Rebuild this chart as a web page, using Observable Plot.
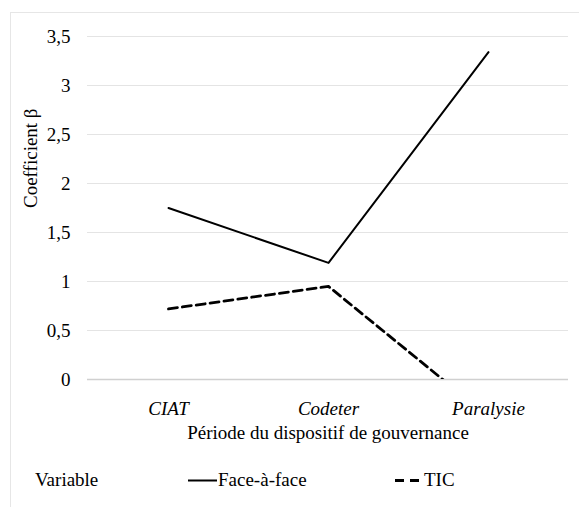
<!DOCTYPE html>
<html><head><meta charset="utf-8">
<script src="https://cdn.jsdelivr.net/npm/d3@7"></script>
<script src="https://cdn.jsdelivr.net/npm/@observablehq/plot@0.6"></script>
<style>
body{margin:0;background:#fff}
#wrap{position:relative;width:579px;height:507px;overflow:hidden;background:#fff}
#frame{position:absolute;left:10px;top:12px;width:600px;height:520px;border-top:1px solid #e6e6e6;border-left:1px solid #e6e6e6;box-sizing:border-box}
#chart{position:absolute;left:0;top:0}
.lg{position:absolute;top:468px;font-size:19px;line-height:24px;color:#000;white-space:nowrap}
.lg svg{position:absolute;top:0}
</style></head><body>
<div id="wrap"><div id="frame"></div><div id="chart"></div><div id="legend"></div></div>
<script>
const periods = ["CIAT", "Codeter", "Paralysie"];
const faceAFace = [1.75, 1.19, 3.34];
const tic = [0.72, 0.95, -0.38];
const yTicks = [0, 0.5, 1, 1.5, 2, 2.5, 3, 3.5];
const seriesNames = ["Face-à-face", "TIC"];
const legendTitle = "Variable";
const xTitle = "Période du dispositif de gouvernance";
const yTitle = "Coefficient β";

const rows = [];
periods.forEach((p, i) => {
  rows.push({periode: p, serie: seriesNames[0], valeur: faceAFace[i]});
  rows.push({periode: p, serie: seriesNames[1], valeur: tic[i]});
});
const fmt = d => String(d).replace(".", ",");
const serif = "Liberation Serif";

const chart = Plot.plot({
  width: 579, height: 455,
  marginLeft: 87, marginRight: 11, marginTop: 36, marginBottom: 76,
  style: {fontFamily: serif, fontSize: "19px", color: "#000", background: "transparent"},
  x: {type: "point", domain: periods, padding: 0.5, label: null},
  y: {domain: [0, 3.5], label: null},
  marks: [
    Plot.gridY(yTicks, {stroke: "#e4e4e4", strokeOpacity: 1, strokeWidth: 1}),
    Plot.ruleY([0], {stroke: "#d0d0d0", strokeWidth: 1.5}),
    Plot.axisY({ticks: yTicks, tickSize: 0, tickPadding: 17, tickFormat: fmt, label: null, fontSize: 19}),
    Plot.axisX({tickSize: 0, tickPadding: 22, fontStyle: "italic", label: null, fontSize: 19}),
    Plot.line(rows.filter(d => d.serie === seriesNames[0]), {x: "periode", y: "valeur", stroke: "#000", strokeWidth: 2}),
    Plot.line(rows.filter(d => d.serie === seriesNames[1]), {x: "periode", y: "valeur", stroke: "#000", strokeWidth: 2.8, strokeDasharray: "9,5", clip: true}),
    Plot.text([xTitle], {frameAnchor: "bottom", dy: 59, fontSize: 19}),
    Plot.text([yTitle], {frameAnchor: "left", dx: -57, rotate: -90, fontSize: 19})
  ]
});
chart.style.fontFamily = serif;
chart.querySelectorAll("text").forEach(t => t.style.fontFamily = serif);
document.getElementById("chart").appendChild(chart);

const lg = document.getElementById("legend");
lg.innerHTML =
  `<div class="lg" style="left:35px">${legendTitle}</div>` +
  `<div class="lg" style="left:188px;padding-left:30px"><svg width="30" height="24" style="left:0"><line x1="0" x2="29" y1="12.5" y2="12.5" stroke="#000" stroke-width="2"/></svg>${seriesNames[0]}</div>` +
  `<div class="lg" style="left:395px;padding-left:29px"><svg width="29" height="24" style="left:0"><line x1="0" x2="26" y1="12.5" y2="12.5" stroke="#000" stroke-width="3" stroke-dasharray="9,6"/></svg>${seriesNames[1]}</div>`;
lg.querySelectorAll(".lg").forEach(d => d.style.fontFamily = serif);
</script>
</body></html>
